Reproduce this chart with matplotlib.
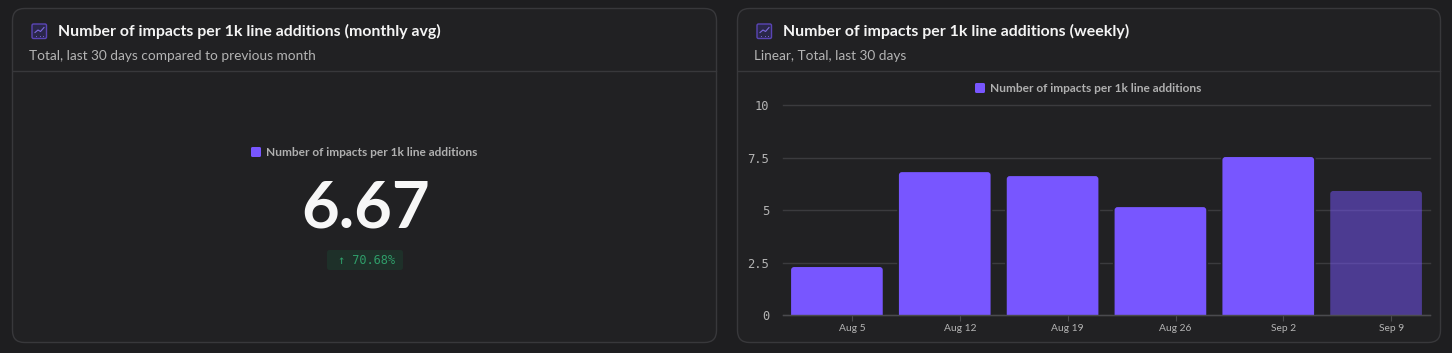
import numpy as np
import matplotlib
matplotlib.use("Agg")
import matplotlib.pyplot as plt
from matplotlib.patches import FancyBboxPatch, PathPatch
from matplotlib.path import Path

# chart data
weeks = ["Aug 5", "Aug 12", "Aug 19", "Aug 26", "Sep 2", "Sep 9"]
impacts = [2.29, 6.82, 6.63, 5.15, 7.54, 5.92]
y_ticks = [0, 2.5, 5, 7.5, 10]
y_labels = ["0", "2.5", "5", "7.5", "10"]
partial_week = [False, False, False, False, False, True]

big_number = "6.67"
change = "↑ 70.68%"
legend_label = "Number of impacts per 1k line additions"
title_left = "Number of impacts per 1k line additions (monthly avg)"
sub_left = "Total, last 30 days compared to previous month"
title_right = "Number of impacts per 1k line additions (weekly)"
sub_right = "Linear, Total, last 30 days"

W, H = 1452, 353
PAGE = "#1e1e20"
CARD = "#212123"
BORDER = "#38383b"
PURPLE = "#7856ff"
FONT = "Lato"
MONO = "DejaVu Sans Mono"

fig = plt.figure(figsize=(W / 100, H / 100), dpi=100, facecolor=PAGE)

# overlay in pixel coordinates for the cards and header text
bg = fig.add_axes([0, 0, 1, 1])
bg.set_xlim(0, W)
bg.set_ylim(H, 0)
bg.axis("off")


def rounded(ax, x, y, w, h, r, fc, ec="none", lw=1.0, zorder=1):
    p = FancyBboxPatch((x + r, y + r), w - 2 * r, h - 2 * r,
                       boxstyle="round,pad=%f,rounding_size=%f" % (r, r),
                       fc=fc, ec=ec, lw=lw, zorder=zorder)
    ax.add_patch(p)
    return p


def draw_icon(x, y):
    rounded(bg, x, y, 14.5, 14.5, 1.5, "#2a274a", ec="#5a45b5", lw=1.0, zorder=3)
    bg.plot([x + 3, x + 6, x + 8.5, x + 12], [y + 8.5, y + 6, y + 7.5, y + 3.5],
            color="#7d68dd", lw=0.8, zorder=4)
    bg.plot([x + 4, x + 7.5, x + 11], [y + 11.5] * 3, ls="none", marker=".",
            ms=1.5, mew=0, color="#7d68dd", zorder=4)


def draw_card(x0, x1, title, sub):
    rounded(bg, x0 + 0.5, 8.5, x1 - x0, 334, 12, CARD, ec=BORDER, lw=1.0)
    bg.plot([x0 + 1, x1], [71, 71], color=BORDER, lw=1.0, zorder=2)
    draw_icon(x0 + 20, 24)
    bg.text(x0 + 46, 31, title, color="#f4f4f4", fontsize=11.45, family=FONT,
            weight="bold", va="center", ha="left", zorder=3)
    bg.text(x0 + 17, 55.5, sub, color="#b4b4b4", fontsize=9.8, family=FONT,
            va="center", ha="left", zorder=3)


def draw_legend(x, y):
    rounded(bg, x, y - 5, 10, 10, 1.5, PURPLE, zorder=3)
    bg.text(x + 15, y, legend_label, color="#b0b0b0", fontsize=8.6, family=FONT,
            weight="bold", va="center", ha="left", zorder=3)


draw_card(12, 716, title_left, sub_left)
draw_card(737, 1440, title_right, sub_right)
draw_legend(251, 152)
draw_legend(975, 88)

# left card big number and change badge
bg.text(366, 227, big_number, color="#f7f7f7", fontsize=47, family=FONT,
        weight="bold", va="baseline", ha="center", zorder=3)
rounded(bg, 327, 250, 76, 20, 2.5, "#1e3029", zorder=3)
bg.text(366, 260, change, color="#2f9e6a", fontsize=8.6, family=MONO,
        va="center", ha="center", zorder=4)

# weekly bars
ax = fig.add_axes([783 / W, 1 - 315 / H, 647 / W, 209.5 / H])
ax.set_facecolor("none")
ax.set_xlim(0, len(weeks))
ax.set_ylim(0, 10)
for s in ["top", "right", "left"]:
    ax.spines[s].set_visible(False)
ax.spines["bottom"].set_color("#4a4a4e")
ax.spines["bottom"].set_linewidth(1.0)
ax.spines["bottom"].set_zorder(5)
ax.set_axisbelow(True)
ax.xaxis.grid(False)

bar_w = 0.85
rx = 3 / (647 / len(weeks))
ry = 3 / 21.0
for i, (v, partial) in enumerate(zip(impacts, partial_week)):
    x0 = i + 0.5 - bar_w / 2
    x1 = i + 0.5 + bar_w / 2
    verts = [(x0, 0), (x0, v - ry), (x0, v), (x0 + rx, v), (x1 - rx, v),
             (x1, v), (x1, v - ry), (x1, 0), (x0, 0)]
    codes = [Path.MOVETO, Path.LINETO, Path.CURVE3, Path.CURVE3, Path.LINETO,
             Path.CURVE3, Path.CURVE3, Path.LINETO, Path.CLOSEPOLY]
    shape = Path(verts, codes)
    if partial:
        ax.add_patch(PathPatch(shape, fc=(0.47, 0.337, 1.0, 0.5), ec="none", zorder=3))
    else:
        # card coloured halo cuts the grid lines next to the bar
        ax.add_patch(PathPatch(shape, fc=CARD, ec=CARD, lw=2.4, zorder=2.5))
        ax.add_patch(PathPatch(shape, fc=PURPLE, ec="none", zorder=3))

# date ticks sit right of the bar centres in the original
ax.set_xticks(np.arange(len(weeks)) + 0.64)
ax.set_xticklabels(weeks, family=FONT, fontsize=7.4, color="#b4b4b4")
ax.set_yticks(y_ticks)
ax.set_yticklabels(y_labels, family=MONO, fontsize=8.7, color="#b4b4b4")
ax.tick_params(axis="x", length=4, width=0.8, color="#4a4a4e", pad=2.5)
ax.tick_params(axis="y", length=0, pad=10)

# top grid line sits on the axes edge, so no clipping
ax.yaxis.grid(True, color="#3b3b3e", lw=1.0)
for line in ax.yaxis.get_gridlines():
    line.set_clip_on(False)

fig.savefig("out.png", dpi=100, facecolor=PAGE)
